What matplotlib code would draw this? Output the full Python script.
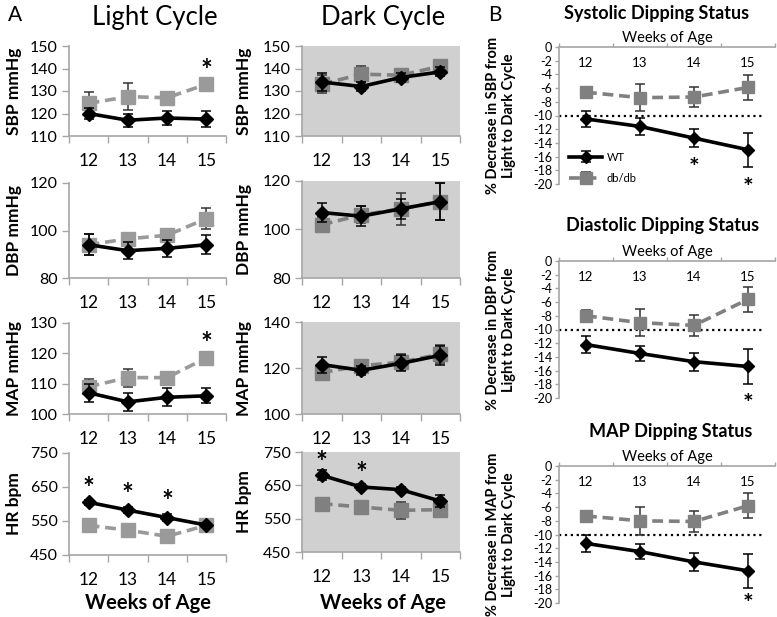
import matplotlib
matplotlib.use("Agg")
import matplotlib.pyplot as plt
import numpy as np

plt.rcParams['font.family'] = ['Lato', 'DejaVu Sans']
plt.rcParams['axes.unicode_minus'] = False

weeks = ['12', '13', '14', '15']

# panel A - light cycle
sbp_light_wt = [120, 117, 118, 117.5]
sbp_light_wt_err = [2.5, 3, 3, 3.5]
sbp_light_db = [124.5, 127.5, 127, 133]
sbp_light_db_err = [5, 6, 1.5, 2.5]

dbp_light_wt = [94, 91.5, 92.5, 94]
dbp_light_wt_err = [4.5, 3.5, 3.5, 4]
dbp_light_db = [94, 96.5, 98, 105]
dbp_light_db_err = [4.5, 1.5, 2.5, 4.5]

map_light_wt = [107, 104, 105.5, 106]
map_light_wt_err = [3, 3, 3, 2.5]
map_light_db = [109, 112, 112, 118.5]
map_light_db_err = [2.5, 3, 1, 1]

hr_light_wt = [605, 582, 560, 538]
hr_light_wt_err = [8, 8, 10, 5]
hr_light_db = [537, 523, 505, 537]
hr_light_db_err = [5, 5, 8, 5]

# panel A - dark cycle
sbp_dark_wt = [134, 132, 136, 138.5]
sbp_dark_wt_err = [4, 2, 2, 2]
sbp_dark_db = [133, 137.5, 137, 141]
sbp_dark_db_err = [4, 3.5, 2, 1.5]

dbp_dark_wt = [107, 105.5, 108.5, 111.5]
dbp_dark_wt_err = [4, 4, 4, 7.5]
dbp_dark_db = [102, 106, 108.5, 111.5]
dbp_dark_db_err = [3, 3.5, 6.5, 7.5]

map_dark_wt = [121.5, 119, 122, 125.5]
map_dark_wt_err = [3.5, 2, 3.5, 4]
map_dark_db = [118, 121, 122.5, 126]
map_dark_db_err = [3, 1, 3.5, 4]

hr_dark_wt = [680, 645, 637, 603]
hr_dark_wt_err = [15, 8, 8, 18]
hr_dark_db = [595, 585, 575, 577]
hr_dark_db_err = [8, 10, 25, 10]

# panel B - dipping status
sys_dip_wt = [-10.5, -11.6, -13.3, -15.0]
sys_dip_wt_err = [1.2, 1.2, 1.3, 2.5]
sys_dip_db = [-6.6, -7.4, -7.3, -5.9]
sys_dip_db_err = [0.8, 2.0, 1.5, 1.8]

dia_dip_wt = [-12.2, -13.5, -14.7, -15.4]
dia_dip_wt_err = [1.2, 1.1, 1.3, 2.5]
dia_dip_db = [-8.0, -9.0, -9.4, -5.6]
dia_dip_db_err = [0.8, 2.0, 1.5, 1.8]

map_dip_wt = [-11.3, -12.5, -14.0, -15.3]
map_dip_wt_err = [1.2, 1.1, 1.3, 2.5]
map_dip_db = [-7.3, -8.0, -8.1, -5.8]
map_dip_db_err = [0.8, 2.0, 1.5, 1.8]

W, H = 777, 617
fig = plt.figure(figsize=(W / 100, H / 100), dpi=100)

def rect(x0, y0, x1, y1):
    # pixel box -> figure fraction
    return [x0 / W, 1 - y1 / H, (x1 - x0) / W, (y1 - y0) / H]

x = np.arange(4)
SPINE = '#a6a6a6'
DB_A = '#9a9a9a'
DB_B = '#808080'


def draw_series(ax, wt, wt_err, db, db_err, dbcol, ms_scale=1.0):
    ax.errorbar(x, db, yerr=db_err, color=dbcol, lw=2.6, ls=(0, (3, 1.6)),
                marker='s', ms=10 * ms_scale, ecolor='#333333', elinewidth=1.1,
                capsize=3.5, capthick=1.1, zorder=3, label='db/db')
    ax.errorbar(x, wt, yerr=wt_err, color='black', lw=2.6, marker='D',
                ms=7 * ms_scale, ecolor='black', elinewidth=1.1, capsize=3.5,
                capthick=1.1, zorder=4, label='WT')


def panel_a(box, wt, wt_err, db, db_err, ylim, yticks, ylabel, dark, lx, stars=()):
    ax = fig.add_axes(rect(*box))
    if dark:
        ax.set_facecolor('#d0d0d0')
        draw_series(ax, wt, wt_err, db, db_err, DB_B)
    else:
        draw_series(ax, wt, wt_err, db, db_err, DB_A)
    ax.set_xlim(-0.5, 3.5)
    ax.set_ylim(*ylim)
    ax.set_yticks(yticks)
    ax.set_xticks(x)
    ax.set_xticklabels(weeks)
    ax.set_xticks(np.arange(-0.5, 4, 1), minor=True)
    ax.tick_params(axis='x', which='major', length=0, pad=12, labelsize=12.5)
    ax.tick_params(axis='x', which='minor', length=5, color=SPINE, width=1)
    ax.tick_params(axis='y', length=5, color=SPINE, width=1, labelsize=11.5, pad=3)
    for s in ['top', 'right']:
        ax.spines[s].set_visible(False)
    for s in ['left', 'bottom']:
        ax.spines[s].set_color(SPINE)
        ax.spines[s].set_linewidth(1.2)
    ax.set_ylabel(ylabel, fontsize=12.5, fontweight='bold')
    ax.yaxis.set_label_coords(lx, 0.5)
    for sx, sy in stars:
        ax.text(sx, sy, '*', ha='center', va='center', fontsize=20, fontweight='bold')
    return ax


# left column (light)
LX0, LX1 = 69, 226
panel_a((LX0, 46, LX1, 136), sbp_light_wt, sbp_light_wt_err, sbp_light_db, sbp_light_db_err,
        (110, 150), [110, 120, 130, 140, 150], 'SBP mmHg', False, -0.30, stars=[(3, 139)])
panel_a((LX0, 183, LX1, 278), dbp_light_wt, dbp_light_wt_err, dbp_light_db, dbp_light_db_err,
        (80, 120), [80, 100, 120], 'DBP mmHg', False, -0.30)
panel_a((LX0, 323, LX1, 414), map_light_wt, map_light_wt_err, map_light_db, map_light_db_err,
        (100, 130), [100, 110, 120, 130], 'MAP mmHg', False, -0.30, stars=[(3, 123)])
panel_a((LX0, 453, LX1, 555), hr_light_wt, hr_light_wt_err, hr_light_db, hr_light_db_err,
        (450, 750), [450, 550, 650, 750], 'HR bpm', False, -0.30,
        stars=[(0, 645), (1, 627), (2, 607)])

# middle column (dark)
MX0, MX1 = 302, 460
panel_a((MX0, 46, MX1, 136), sbp_dark_wt, sbp_dark_wt_err, sbp_dark_db, sbp_dark_db_err,
        (110, 150), [110, 120, 130, 140, 150], 'SBP mmHg', True, -0.316)
panel_a((MX0, 181, MX1, 278), dbp_dark_wt, dbp_dark_wt_err, dbp_dark_db, dbp_dark_db_err,
        (80, 120), [80, 100, 120], 'DBP mmHg', True, -0.316)
panel_a((MX0, 322, MX1, 414), map_dark_wt, map_dark_wt_err, map_dark_db, map_dark_db_err,
        (100, 140), [100, 120, 140], 'MAP mmHg', True, -0.316)
panel_a((MX0, 452, MX1, 552), hr_dark_wt, hr_dark_wt_err, hr_dark_db, hr_dark_db_err,
        (450, 750), [450, 550, 650, 750], 'HR bpm', True, -0.316,
        stars=[(0, 718), (1, 685)])

fig.text(155 / W, 1 - 17 / H, 'Light Cycle', ha='center', va='center', fontsize=18.5)
fig.text(383 / W, 1 - 17 / H, 'Dark Cycle', ha='center', va='center', fontsize=18.5)
fig.text(148 / W, 1 - 603 / H, 'Weeks of Age', ha='center', va='center', fontsize=14.5, fontweight='bold')
fig.text(383 / W, 1 - 603 / H, 'Weeks of Age', ha='center', va='center', fontsize=14.5, fontweight='bold')
fig.text(8 / W, 1 - 15 / H, 'A', ha='left', va='center', fontsize=15)
fig.text(488 / W, 1 - 15 / H, 'B', ha='left', va='center', fontsize=15)


def panel_b(box, title, tx, ty, wt, wt_err, db, db_err, ylabel, stars=(), legend=False):
    ax = fig.add_axes(rect(*box))
    draw_series(ax, wt, wt_err, db, db_err, DB_B, ms_scale=0.85)
    ax.axhline(-10, xmin=0, xmax=0.94, color='black', ls=':', lw=1.6, zorder=2)
    ax.set_xlim(-0.5, 3.5)
    ax.set_ylim(-20, 0)
    ax.set_yticks(np.arange(-20, 1, 2))
    ax.xaxis.tick_top()
    ax.set_xticks(x)
    ax.set_xticklabels(weeks)
    ax.set_xticks(np.arange(-0.5, 4, 1), minor=True)
    ax.tick_params(axis='x', which='major', length=0, pad=-16, labelsize=9.5)
    ax.tick_params(axis='x', which='minor', length=3, color=SPINE, width=1)
    ax.tick_params(axis='y', length=3, color=SPINE, width=1, labelsize=9, pad=2)
    ax.xaxis.set_label_position('top')
    ax.set_xlabel('Weeks of Age', fontsize=10.5, labelpad=-3)
    for s in ['bottom', 'right']:
        ax.spines[s].set_visible(False)
    for s in ['left', 'top']:
        ax.spines[s].set_color(SPINE)
        ax.spines[s].set_linewidth(1.2)
    ax.set_ylabel(ylabel, fontsize=10.5, fontweight='bold', linespacing=1.2)
    ax.yaxis.set_label_coords(-0.2, 0.5)
    fig.text(tx / W, 1 - ty / H, title, ha='center', va='center', fontsize=13, fontweight='bold')
    for sx, sy in stars:
        ax.text(sx, sy, '*', ha='center', va='center', fontsize=18, fontweight='bold')
    if legend:
        h, l = ax.get_legend_handles_labels()
        ax.legend(h[::-1], l[::-1], loc='lower left', bbox_to_anchor=(0.0, -0.07),
                  frameon=False, fontsize=8, handlelength=3.0, labelspacing=0.9,
                  handletextpad=0.4)
    return ax


panel_b((559, 47, 775, 184), 'Systolic Dipping Status', 657, 13, sys_dip_wt, sys_dip_wt_err,
        sys_dip_db, sys_dip_db_err, '% Decrease in SBP from\nLight to Dark Cycle',
        stars=[(2, -17.8), (3, -20.7)], legend=True)
panel_b((559, 261, 775, 398), 'Diastolic Dipping Status', 663, 226, dia_dip_wt, dia_dip_wt_err,
        dia_dip_db, dia_dip_db_err, '% Decrease in DBP from\nLight to Dark Cycle',
        stars=[(3, -20.9)])
panel_b((559, 466, 775, 603), 'MAP Dipping Status', 671, 432, map_dip_wt, map_dip_wt_err,
        map_dip_db, map_dip_db_err, '% Decrease in MAP from\nLight to Dark Cycle',
        stars=[(3, -20.15)])

fig.savefig('out.png', dpi=100)
